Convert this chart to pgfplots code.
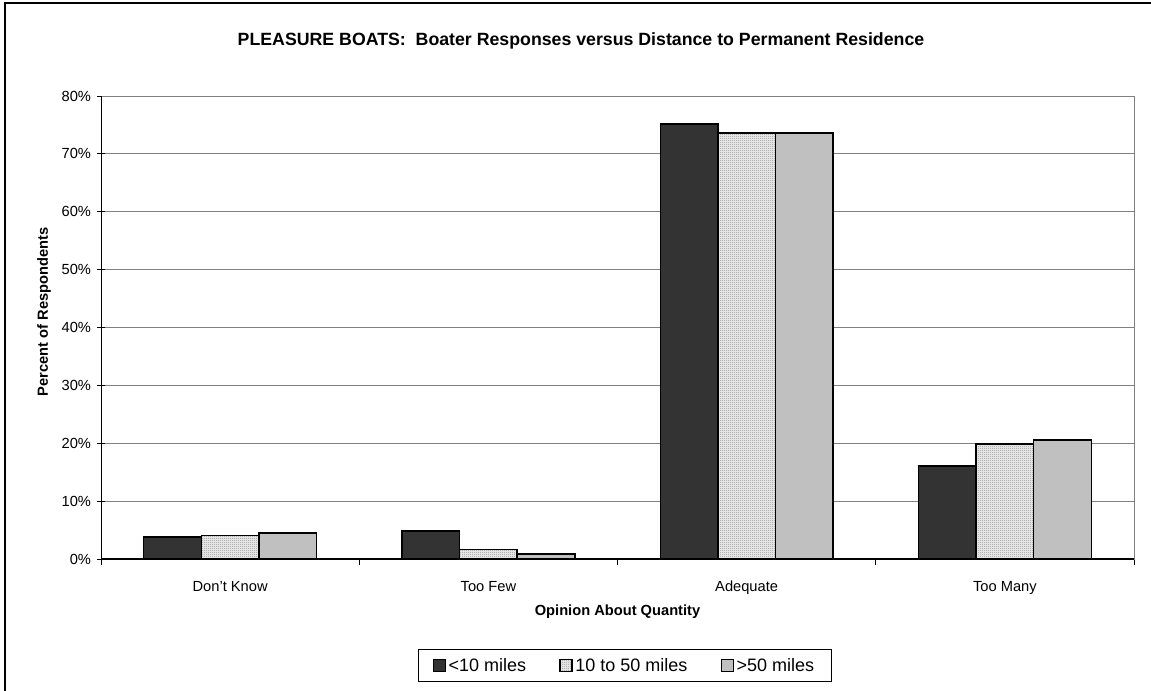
\documentclass[border=0pt]{standalone}
\usepackage{pgfplots}
\pgfplotsset{compat=1.18}
\usepackage{fontspec}
\setmainfont{Liberation Sans}
\usetikzlibrary{patterns}
\pgfdeclarepatternformonly{finedots}{\pgfpointorigin}{\pgfqpoint{1.5pt}{1.5pt}}{\pgfqpoint{1.5pt}{1.5pt}}{\pgfpathrectangle{\pgfpointorigin}{\pgfqpoint{0.75pt}{0.75pt}}\pgfusepath{fill}}
\definecolor{cDark}{HTML}{333333}
\definecolor{cSilver}{HTML}{C0C0C0}
\definecolor{cGrid}{HTML}{808080}
\definecolor{cDot}{HTML}{707070}
\definecolor{cDotBg}{HTML}{E4E4E4}

\begin{document}
\begin{tikzpicture}
\path[use as bounding box] (0,0) rectangle (863.25pt,-518.25pt);
\draw[line width=1.5pt] (3.75pt,-530pt) -- (3.75pt,-2.25pt) -- (870pt,-2.25pt);
\node[font=\bfseries\fontsize{13.3}{16}\selectfont, anchor=base] at (435.75pt,-34.5pt)
  {PLEASURE BOATS:\ \ Boater Responses versus Distance to Permanent Residence};
\begin{axis}[
  at={(75.75pt,-419.25pt)}, anchor=south west,
  scale only axis, width=774.75pt, height=347.25pt,
  xmin=-0.5, xmax=3.5, ymin=0, ymax=80,
  ybar=0pt, bar width=43.2pt,
  tick pos=left,
  xtick={0,1,2,3},
  xticklabels={Don't Know, Too Few, Adequate, Too Many},
  x tick style={draw=none},
  minor xtick={-0.5,0.5,1.5,2.5,3.5},
  minor x tick style={draw=black, line width=0.75pt},
  minor tick length=4.5pt,
  xtick align=outside,
  ytick={0,10,...,80},
  yticklabel={\pgfmathprintnumber{\tick}\%},
  /pgf/number format/assume math mode=true,
  ytick align=center,
  major tick length=6pt,
  y tick style={draw=black, line width=0.75pt},
  ymajorgrids,
  grid style={draw=cGrid, line width=0.75pt},
  axis line style={draw=cGrid, line width=0.75pt},
  typeset ticklabels with strut,
  tick label style={font=\fontsize{11}{13}\selectfont},
  xticklabel style={yshift=-6pt},
  yticklabel style={xshift=-1pt},
  xlabel={Opinion About Quantity},
  ylabel={Percent of Respondents},
  label style={font=\bfseries\fontsize{11}{13}\selectfont},
  xlabel style={at={(axis description cs:0.5,-0.1145)}, anchor=center},
  ylabel style={at={(axis description cs:-0.0552,0.534)}, anchor=center, rotate=0},
  legend style={at={(0.507,-0.23)}, anchor=center, legend columns=3,
    draw=black, line width=0.75pt, inner xsep=11pt, inner ysep=4pt,
    font=\fontsize{13.5}{16}\selectfont,
    /tikz/every even column/.append style={column sep=23pt}},
  legend image code/.code={\draw[#1, line width=0.9pt] (0pt,-4.5pt) rectangle (9pt,4.5pt);},
  legend cell align=left,
  every axis plot/.append style={draw=black, line width=1.1pt},
]
\addplot[fill=cDark] coordinates {(0,3.8) (1,4.8) (2,75.2) (3,16.1)};
\addplot[fill=cDotBg, postaction={pattern=finedots, pattern color=cDot}] coordinates {(0,4.1) (1,1.6) (2,73.6) (3,19.9)};
\addplot[fill=cSilver] coordinates {(0,4.5) (1,0.9) (2,73.6) (3,20.6)};
\legend{<10 miles, 10 to 50 miles, >50 miles}
\draw[black, line width=1pt] (rel axis cs:0,0) -- (rel axis cs:0,1);
\draw[black, line width=1pt] (rel axis cs:0,0) -- (rel axis cs:1,0);
\end{axis}
\end{tikzpicture}
\end{document}
